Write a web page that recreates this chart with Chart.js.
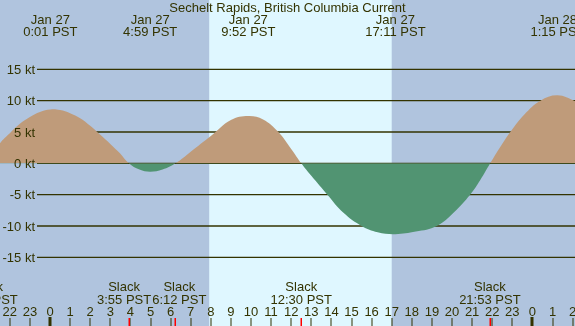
<!DOCTYPE html>
<html><head><meta charset="utf-8">
<script src="https://cdn.jsdelivr.net/npm/chart.js@4/dist/chart.umd.min.js"></script>
<style>html,body{margin:0;padding:0;background:#b0c4de;}canvas{display:block;}</style>
</head><body>
<canvas id="c" width="575" height="326"></canvas>
<script>
// Hours relative to Jan 27 00:00 PST
const hours  = [-3.13,-2.49,-2.0,-1.5,-1.0,-0.5,0.02,0.5,1.0,1.5,2.0,2.49,3.0,3.48,3.92,4.45,4.98,5.6,6.25,7.0,8.0,9.0,9.87,10.6,11.36,12.0,12.5,13.0,13.8,14.6,15.5,16.3,17.18,18.2,19.24,20.1,20.9,21.4,21.9,22.4,22.9,23.6,24.4,25.25,26.12,26.6];
const speeds = [0,3.2,4.8,6.3,7.4,8.2,8.6,8.5,8.0,7.2,6.0,4.6,3.1,1.6,0,-1.0,-1.34,-1.0,0,1.85,4.35,6.9,7.55,7.0,5.0,2.3,0,-2.0,-5.0,-7.9,-10.0,-11.0,-11.3,-10.9,-10.0,-7.8,-5.0,-2.7,0,2.6,5.0,7.8,10.0,10.85,9.9,9.0];

const yTicks = [15,10,5,0,-5,-10,-15];
const yTickLabels = ['15 kt','10 kt','5 kt','0 kt','-5 kt','-10 kt','-15 kt'];

const hourTicks = [];
for (let h = -2; h <= 26; h++) hourTicks.push(h);
const hourLabels = hourTicks.map(h => String(((h % 24) + 24) % 24));

const peakTimes = [0.017, 4.983, 9.867, 17.183, 25.25];
const peakDates = ['Jan 27','Jan 27','Jan 27','Jan 27','Jan 28'];
const peakLabels = ['0:01 PST','4:59 PST','9:52 PST','17:11 PST','1:15 PST'];

const slackTimes = [-3.13, 3.917, 6.2, 12.5, 21.883];
const slackLabels = ['20:52 PST','3:55 PST','6:12 PST','12:30 PST','21:53 PST'];

const sunrise = 7.92, sunset = 17.0;
const title = 'Sechelt Rapids, British Columbia Current';

const NIGHT = '#b0c4de', DAY = '#dff7ff', TAN = '#bf9b7a', GREEN = '#519472', INK = '#333300';
const FONT = '13px "Liberation Sans", Arial, sans-serif';

const deco = {
  id: 'deco',
  beforeDraw(chart) {
    const {ctx, scales:{x}} = chart;
    ctx.save();
    ctx.fillStyle = NIGHT;
    ctx.fillRect(0, 0, chart.width, chart.height);
    const x1 = x.getPixelForValue(sunrise), x2 = x.getPixelForValue(sunset);
    ctx.fillStyle = DAY;
    ctx.fillRect(x1, 0, x2 - x1, chart.height);
    ctx.restore();
  },
  beforeDatasetsDraw(chart) {
    const {ctx, scales:{y}} = chart;
    ctx.save();
    ctx.strokeStyle = INK;
    ctx.lineWidth = 1.3;
    yTicks.forEach(v => {
      const py = y.getPixelForValue(v);
      ctx.beginPath();
      ctx.moveTo(37, py);
      ctx.lineTo(chart.width, py);
      ctx.stroke();
    });
    ctx.restore();
  },
  afterDatasetsDraw(chart) {
    const {ctx, scales:{x, y}} = chart;
    ctx.save();
    ctx.fillStyle = INK;
    ctx.font = FONT;
    // y labels
    ctx.textAlign = 'right';
    ctx.textBaseline = 'middle';
    yTicks.forEach((v, i) => ctx.fillText(yTickLabels[i], 35, y.getPixelForValue(v) + 1));
    // title
    ctx.textAlign = 'center';
    ctx.textBaseline = 'alphabetic';
    ctx.fillText(title, 287.5, 12);
    // peak labels
    peakTimes.forEach((t, i) => {
      const px = x.getPixelForValue(t);
      ctx.fillText(peakDates[i], px, 24);
      ctx.fillText(peakLabels[i], px, 36);
    });
    // slack labels, pushed apart when they would overlap
    const cx = slackTimes.map(t => x.getPixelForValue(t));
    const ws = slackLabels.map(s => ctx.measureText(s).width);
    for (let i = 0; i < cx.length - 1; i++) {
      const need = (ws[i] + ws[i + 1]) / 2 + 1;
      const d = cx[i + 1] - cx[i];
      if (d < need) { const s = (need - d) / 2; cx[i] -= s; cx[i + 1] += s; }
    }
    slackTimes.forEach((t, i) => {
      ctx.fillText('Slack', cx[i], 291);
      ctx.fillText(slackLabels[i], cx[i], 304);
    });
    // hour labels and ticks
    hourTicks.forEach((h, i) => {
      const px = x.getPixelForValue(h);
      ctx.fillText(hourLabels[i], px, 316);
      if (h % 24 === 0) ctx.fillRect(Math.round(px) - 1.5, 317, 3, 9);
      else ctx.fillRect(Math.round(px) - 0.5, 318, 1, 8);
    });
    ctx.fillStyle = '#ff0000';
    slackTimes.forEach(t => {
      const px = x.getPixelForValue(t);
      ctx.fillRect(Math.round(px) - 0.5, 318, 1.5, 8);
    });
    ctx.restore();
  }
};

new Chart(document.getElementById('c'), {
  type: 'line',
  data: {
    datasets: [{
      data: hours.map((h, i) => ({x: h, y: speeds[i]})),
      borderWidth: 0,
      borderColor: 'rgba(0,0,0,0)',
      pointRadius: 0,
      tension: 0.4,
      fill: {target: {value: 0}, above: TAN, below: GREEN}
    }]
  },
  options: {
    responsive: false,
    devicePixelRatio: 1,
    animation: false,
    layout: {padding: 0},
    plugins: {legend: {display: false}, tooltip: {enabled: false}, title: {display: false}},
    scales: {
      x: {type: 'linear', min: -2.4876, max: 26.119, display: false},
      y: {type: 'linear', min: -25.96, max: 26.06, display: false}
    }
  },
  plugins: [deco]
});
</script>
</body></html>
